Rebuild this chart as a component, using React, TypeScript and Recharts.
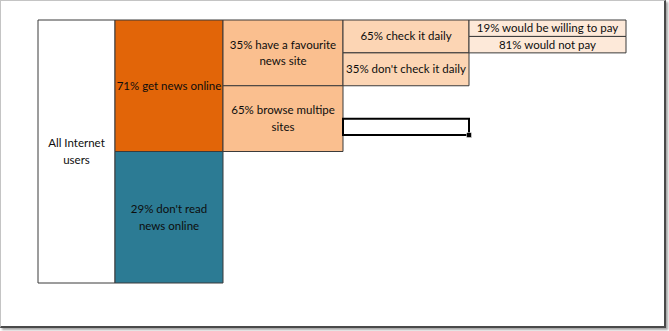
import { ComposedChart, XAxis, YAxis, ReferenceArea, ReferenceDot } from 'recharts';

// labels per level of the breakdown, left to right
const rootLabels = ['All Internet\nusers'];
const newsLabels = ['71% get news online', "29% don't read\nnews online"];
const siteLabels = ['35% have a favourite\nnews site', '65% browse multipe\nsites'];
const checkLabels = ['65% check it daily', "35% don't check it daily"];
const payLabels = ['19% would be willing to pay', '81% would not pay'];

const levels = [rootLabels, newsLabels, siteLabels, checkLabels, payLabels];

// sheet layout (excel cells)
const COL_WIDTHS = [77, 108, 120, 126, 157];
const TOTAL_ROWS = 16;
const LEVEL_FILLS = [['#ffffff'], ['#e26508', '#2c7b94'], ['#fabf8f'], ['#fcd5b4'], ['#fde9d9']];
const SELECTED = { level: 3, row: 6 };

const totalWidth = COL_WIDTHS.reduce((a, b) => a + b, 0);
const colStart = (k: number) => COL_WIDTHS.slice(0, k).reduce((a, b) => a + b, 0);

type Cell = { x1: number; x2: number; y1: number; y2: number; text: string; fill: string };

const cells: Cell[] = [];
levels.forEach((labels, k) => {
  const span = TOTAL_ROWS / Math.pow(2, k);
  labels.forEach((text, i) => {
    const fills = LEVEL_FILLS[k];
    cells.push({
      x1: colStart(k),
      x2: colStart(k) + COL_WIDTHS[k],
      y1: i * span,
      y2: (i + 1) * span,
      text,
      fill: fills[i % fills.length],
    });
  });
});

function CellLabel({ viewBox, text }: any) {
  if (!viewBox) return null;
  const { x, y, width, height } = viewBox;
  const lines = text.split('\n');
  const lh = 16.5;
  const cx = x + width / 2;
  const top = y + height / 2 - ((lines.length - 1) * lh) / 2 + 4;
  return (
    <text textAnchor="middle" fontFamily="Lato, sans-serif" fontSize={11.5} fill="#0d0d0d">
      {lines.map((l: string, i: number) => (
        <tspan key={i} x={cx} y={top + i * lh}>
          {l}
        </tspan>
      ))}
    </text>
  );
}

export default function App() {
  const sel = {
    x1: colStart(SELECTED.level),
    x2: colStart(SELECTED.level) + COL_WIDTHS[SELECTED.level],
    y1: SELECTED.row,
    y2: SELECTED.row + 1,
  };
  return (
    <div style={{ position: 'absolute', left: 0, top: 0, width: 669, height: 331, background: '#fff' }}>
      <div
        style={{
          position: 'absolute',
          left: 0,
          top: 0,
          width: 666,
          height: 328,
          boxSizing: 'border-box',
          border: '1px solid #c4c4c4',
          borderRight: '2px solid #4a4a4a',
          borderBottom: '2px solid #4a4a4a',
          boxShadow: '2px 2px 2px rgba(0,0,0,0.35)',
          background: '#fff',
        }}
      />
      <div style={{ position: 'absolute', left: 0, top: 0 }}>
        <ComposedChart width={669} height={331} data={[]} margin={{ top: 20, right: 43, bottom: 48, left: 38 }}>
          <XAxis type="number" dataKey="x" domain={[0, totalWidth]} hide allowDataOverflow />
          <YAxis type="number" domain={[0, TOTAL_ROWS]} reversed hide allowDataOverflow />
          {cells.map((c, i) => (
            <ReferenceArea
              key={i}
              x1={c.x1}
              x2={c.x2}
              y1={c.y1}
              y2={c.y2}
              fill={c.fill}
              fillOpacity={1}
              stroke="#3b3b3b"
              strokeWidth={1}
              label={(p: any) => <CellLabel viewBox={p.viewBox} text={c.text} />}
            />
          ))}
          <ReferenceArea
            x1={sel.x1}
            x2={sel.x2}
            y1={sel.y1}
            y2={sel.y2}
            fill="none"
            stroke="#000"
            strokeWidth={2}
          />
          <ReferenceDot
            x={sel.x2}
            y={sel.y2}
            r={3}
            shape={(p: any) => <rect x={p.cx - 2.5} y={p.cy - 2.5} width={5} height={5} fill="#000" stroke="#fff" strokeWidth={0.5} />}
          />
        </ComposedChart>
      </div>
    </div>
  );
}
